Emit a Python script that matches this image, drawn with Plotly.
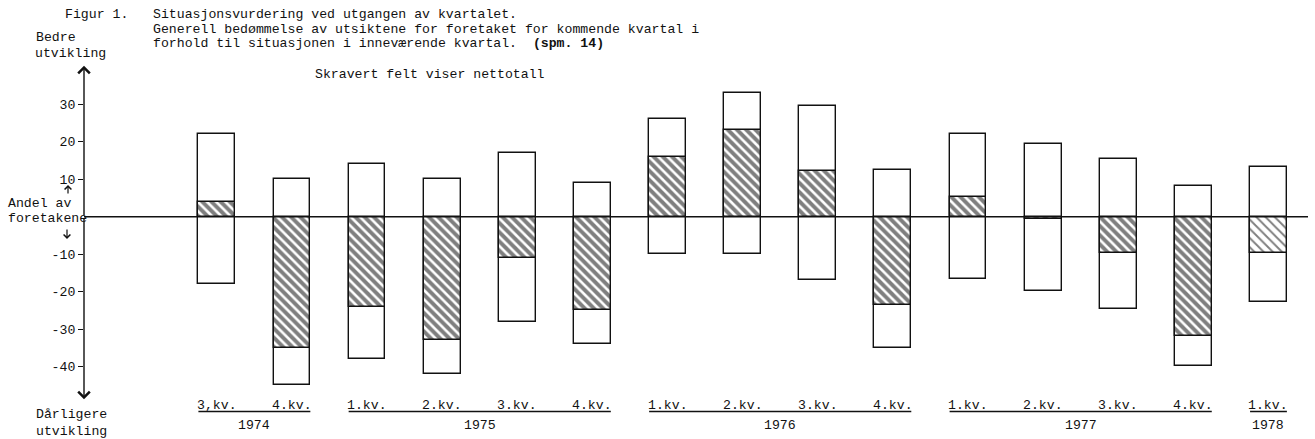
import plotly.graph_objects as go

# ---------------- data ----------------
quarters = ["3,kv.", "4.kv.", "1.kv.", "2.kv.", "3.kv.", "4.kv.", "1.kv.", "2.kv.",
            "3.kv.", "4.kv.", "1.kv.", "2.kv.", "3.kv.", "4.kv.", "1.kv."]
better = [22, 10, 14, 10, 17, 9, 26, 33, 29.5, 12.5, 22, 19.5, 15.3, 8.2, 13.3]
worse = [-18, -45, -38, -42, -28, -34, -10, -10, -17, -35, -16.7, -19.7, -24.7, -39.7, -22.7]
net = [4, -35, -24, -33, -11, -25, 16, 23, 12.3, -23.5, 5.2, -0.5, -9.7, -31.8, -9.6]
years = ["1974", "1975", "1976", "1977", "1978"]
year_first = [0, 2, 6, 10, 14]
year_last = [1, 5, 9, 13, 14]
ytick_vals = [30, 20, 10, -10, -20, -30, -40]
ytick_text = ["30", "20", "10", "-10", "-20", "-30", "-40"]

# ---------------- layout constants ----------------
W, H = 1315, 439
L, R, T, B = 84, 7, 65, 39
FONT = "Liberation Mono, DejaVu Sans Mono, monospace"
INK = "#111111"
FS = 13.2
BW = 0.49
xpos = list(range(len(quarters)))
XR = [-1.768, 14.526]
YR = [-48.88, 40.45]


def px(x):
    return (x - L) / (W - L - R)


def py(y):
    return (H - B - y) / (H - T - B)


fig = go.Figure()

# outline boxes (from worse to better)
fig.add_trace(go.Bar(
    x=xpos, y=[b - w for b, w in zip(better, worse)], base=worse, width=BW,
    marker=dict(color="white", line=dict(color=INK, width=1.4)),
    hoverinfo="skip", showlegend=False))

# hatched net
solid = [0.6] * (len(net) - 1) + [0.3]
fig.add_trace(go.Bar(
    x=xpos, y=net, base=0, width=BW,
    marker=dict(color="white", line=dict(color=INK, width=1.4),
                pattern=dict(shape="\\", fgcolor="black", bgcolor="white",
                             size=6.5, solidity=solid)),
    hoverinfo="skip", showlegend=False))

shapes = []
annotations = []

# zero line
shapes.append(dict(type="line", xref="paper", yref="y", x0=0, x1=1, y0=0, y1=0,
                   line=dict(color=INK, width=1.5)))

# vertical axis with arrows
for tip in (YR[1] - 0.2, YR[0] + 0.2):
    annotations.append(dict(x=XR[0], y=tip, ax=XR[0], ay=0, xref="x", yref="y",
                            axref="x", ayref="y", text="", showarrow=True,
                            arrowhead=4, arrowsize=1.6, arrowwidth=1.4,
                            arrowcolor=INK, standoff=0, startstandoff=0))

# small arrows beside "Andel av foretakene"
for (x0, ytip, dy) in ((68, 185, 10), (67, 239, -11)):
    annotations.append(dict(x=px(x0), y=py(ytip), ax=0, ay=dy,
                            xref="paper", yref="paper", axref="pixel", ayref="pixel",
                            text="", showarrow=True, arrowhead=4, arrowsize=1.1,
                            arrowwidth=1.2, arrowcolor=INK, standoff=0, startstandoff=0))

# quarter labels, underlines, years
for i, q in enumerate(quarters):
    annotations.append(dict(x=i, y=py(405), xref="x", yref="paper", text=q,
                            showarrow=False, font=dict(family=FONT, size=FS, color=INK),
                            xanchor="center", yanchor="middle"))
for yr, a, b in zip(years, year_first, year_last):
    shapes.append(dict(type="line", xref="x", yref="paper", x0=a - BW / 2, x1=b + BW / 2,
                       y0=py(411.5), y1=py(411.5), line=dict(color=INK, width=1.4)))
    annotations.append(dict(x=(a + b) / 2, y=py(425), xref="x", yref="paper", text=yr,
                            showarrow=False, font=dict(family=FONT, size=FS, color=INK),
                            xanchor="center", yanchor="middle"))


def txt(s, x, y, anchor="left", size=FS, family=FONT):
    annotations.append(dict(x=px(x), y=py(y), xref="paper", yref="paper", text=s,
                            showarrow=False, font=dict(family=family, size=size, color=INK),
                            xanchor=anchor, yanchor="middle"))


txt("Figur 1.", 63, 14)
txt("Situasjonsvurdering ved utgangen av kvartalet.", 151, 14)
txt("Generell bedømmelse av utsiktene for foretaket for kommende kvartal i", 151, 29)
txt("forhold til situasjonen i inneværende kvartal.  <b>(spm. 14)</b>", 151, 44)
txt("Bedre", 34, 37)
txt("utvikling", 33, 53)
txt("Skravert felt viser nettotall", 313, 75)
txt("Andel av", 6, 203)
txt("foretakene", 6, 218)
txt("Dårligere", 34, 414)
txt("utvikling", 34, 431)

fig.update_layout(
    width=W, height=H,
    margin=dict(l=L, r=R, t=T, b=B),
    paper_bgcolor="white", plot_bgcolor="white",
    barmode="overlay", bargap=0,
    showlegend=False,
    xaxis=dict(range=XR, visible=False, fixedrange=True),
    yaxis=dict(range=YR, tickvals=ytick_vals, ticktext=ytick_text,
               showgrid=False, zeroline=False, showline=False,
               ticks="outside", ticklen=5, tickwidth=1.3, tickcolor=INK,
               tickfont=dict(family=FONT, size=FS, color=INK), fixedrange=True),
    shapes=shapes, annotations=annotations,
)

fig.write_html("out.html", config={"displayModeBar": False},
               post_script="document.body.style.margin='0';document.body.style.padding='0';")
